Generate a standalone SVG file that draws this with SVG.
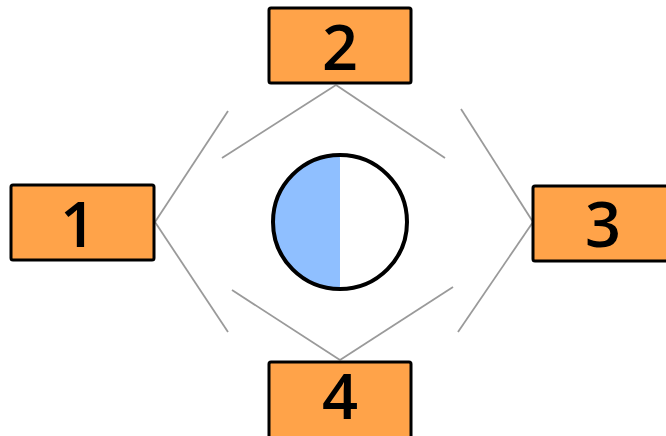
<svg xmlns="http://www.w3.org/2000/svg" width="666" height="436" viewBox="0 0 666 436">
<style>
.box{fill:#ffa349;stroke:#000;stroke-width:3}
.lbl{font-family:"Open Sans",sans-serif;font-weight:600;font-size:63px;fill:#000;text-anchor:middle}
.con{stroke:#9a9a9a;stroke-width:1.8;fill:none}
</style>
<rect width="666" height="436" fill="#fff"/>
<g id="connectors">
<line class="con" x1="336" y1="85" x2="222" y2="158"/>
<line class="con" x1="336" y1="85" x2="445" y2="158"/>
<line class="con" x1="155" y1="222" x2="228" y2="111"/>
<line class="con" x1="155" y1="222" x2="228" y2="332"/>
<line class="con" x1="533" y1="222" x2="461" y2="109"/>
<line class="con" x1="533" y1="222" x2="458" y2="332"/>
<line class="con" x1="340" y1="360" x2="232" y2="290"/>
<line class="con" x1="340" y1="360" x2="453" y2="287"/>
</g>
<g id="node1">
<rect class="box" x="11" y="185" width="143" height="75" rx="2"/>
<text class="lbl" x="78" y="247">1</text>
</g>
<g id="node2">
<rect class="box" x="269" y="8" width="142" height="75" rx="2"/>
<text class="lbl" x="340" y="70">2</text>
</g>
<g id="node3">
<rect class="box" x="533" y="186" width="142" height="75" rx="2"/>
<text class="lbl" x="603" y="247">3</text>
</g>
<g id="node4">
<rect class="box" x="269" y="362" width="142" height="80" rx="2"/>
<text class="lbl" x="340" y="419">4</text>
</g>
<g id="center">
<path d="M340,155 A67,67 0 0 0 340,289 Z" fill="#8fbfff"/>
<path d="M340,155 A67,67 0 0 1 340,289 Z" fill="#fff"/>
<circle cx="340" cy="222" r="67" fill="none" stroke="#000" stroke-width="4"/>
</g>
</svg>
